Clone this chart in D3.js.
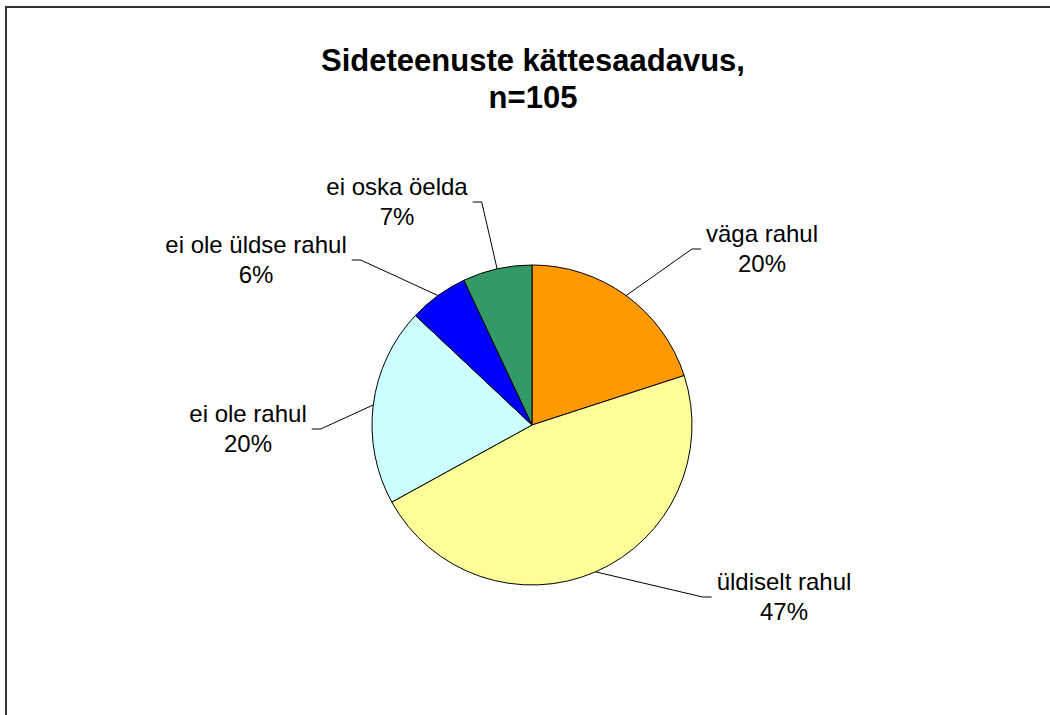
<html>
<head>
<meta charset="utf-8">
<title>Sideteenuste kättesaadavus</title>
<script src="https://cdn.jsdelivr.net/npm/d3@7"></script>
<style>
  body { margin: 0; background: #fff; }
  svg text { font-family: "Liberation Sans", Arial, sans-serif; fill: #000; }
  .title { font-size: 31px; font-weight: bold; text-anchor: middle; }
  .lbl { font-size: 24px; text-anchor: middle; }
</style>
</head>
<body>
<svg id="chart" width="1050" height="715"></svg>
<script>
// data
var categories = ["väga rahul", "üldiselt rahul", "ei ole rahul", "ei ole üldse rahul", "ei oska öelda"];
var shares = [20, 47, 20, 6, 7];   // percent, n=105
var colours = ["#FF9900", "#FFFF99", "#CCFFFF", "#0000FF", "#339966"];
var titleLines = ["Sideteenuste kättesaadavus,", "n=105"];

// label placement relative to pie centre (centre x of text, first-line baseline)
var labelOffset = [[230, -183], [252, 165], [-284, -3], [-276, -172], [-135, -230]];

var W = 1050, H = 715;
var cx = 532, cy = 425, R = 160;

var svg = d3.select("#chart");

// chart area border (only top and left visible)
svg.append("rect")
  .attr("x", 6).attr("y", 7)
  .attr("width", W + 20).attr("height", H + 20)
  .attr("fill", "none")
  .attr("stroke", "#333")
  .attr("stroke-width", 2);

svg.selectAll("text.title")
  .data(titleLines)
  .enter().append("text")
  .attr("class", "title")
  .attr("x", cx + 1)
  .attr("y", (d, i) => 71 + i * 37)
  .text(d => d);

var pie = d3.pie().sort(null).value(d => d);
var arcs = pie(shares);
var arc = d3.arc().innerRadius(0).outerRadius(R);

var g = svg.append("g").attr("transform", "translate(" + cx + "," + cy + ")");

g.selectAll("path")
  .data(arcs)
  .enter().append("path")
  .attr("d", arc)
  .attr("fill", (d, i) => colours[i])
  .attr("stroke", "#000")
  .attr("stroke-width", 1);

// labels with leader lines
arcs.forEach(function (d, i) {
  var mid = (d.startAngle + d.endAngle) / 2;
  var sx = Math.sin(mid) * R, sy = -Math.cos(mid) * R;
  var lx = labelOffset[i][0], ly = labelOffset[i][1];

  var t = g.append("text").attr("class", "lbl").attr("x", lx).attr("y", ly);
  t.append("tspan").attr("x", lx).attr("y", ly).text(categories[i]);
  g.append("text").attr("class", "lbl").attr("x", lx).attr("y", ly + 30)
    .text(d3.format(".0f")(shares[i]) + "%");

  var w = t.node().getComputedTextLength();
  var right = lx > 0;
  var edge = right ? lx - w / 2 - 5 : lx + w / 2 + 5;
  var bend = right ? edge - 9 : edge + 9;
  var yy = ly + 7;

  g.append("path")
    .attr("d", d3.line()([[sx, sy], [bend, yy], [edge, yy]]))
    .attr("fill", "none")
    .attr("stroke", "#000")
    .attr("stroke-width", 1);
});
</script>
</body>
</html>
